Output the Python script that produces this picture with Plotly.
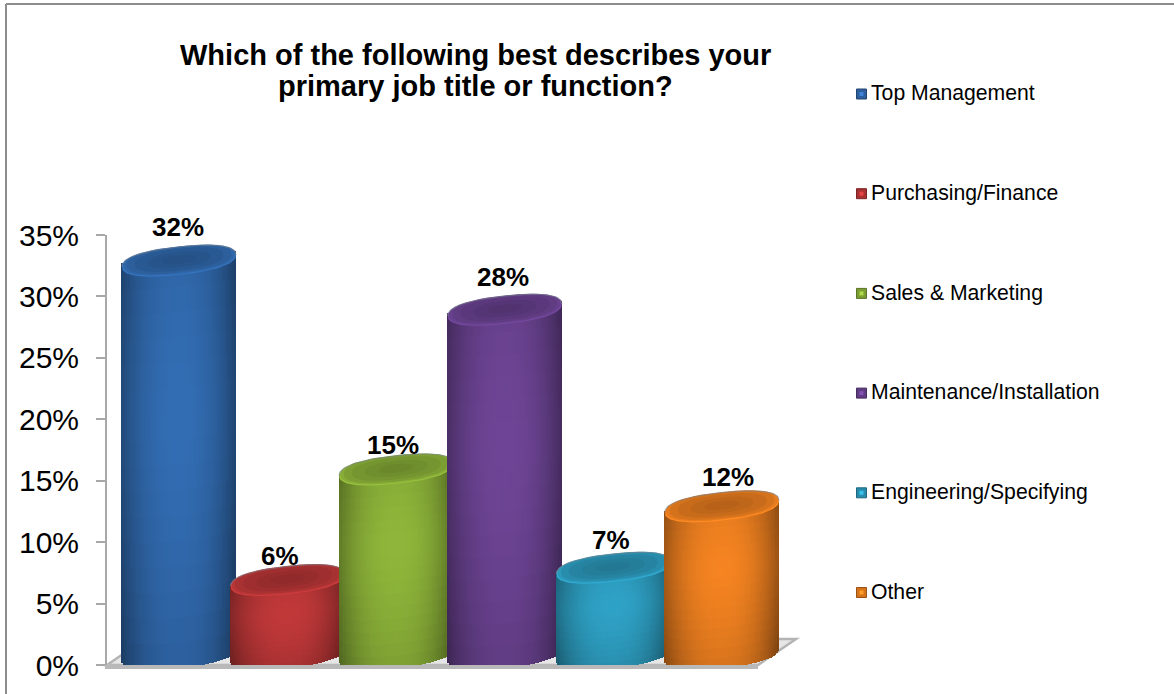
import math
import plotly.graph_objects as go

# Survey results
categories = ["Top Management", "Purchasing/Finance", "Sales & Marketing",
              "Maintenance/Installation", "Engineering/Specifying", "Other"]
values = [32, 6, 15, 28, 7, 12]
tick_values = [0, 5, 10, 15, 20, 25, 30, 35]
tick_labels = ["0%", "5%", "10%", "15%", "20%", "25%", "30%", "35%"]
title_lines = ["Which of the following best describes your", "primary job title or function?"]
base_colors = ["#3470b8", "#c63a3b", "#93bb3c", "#71479a", "#30a6cb", "#fb8722"]
label_dx = [-1, -8, -3, -2, -2, 6]
label_dy = [-21, -11, -12, -20, -15, -17]

W, H = 1174, 694
FONT = "Liberation Sans"
AXIS_GREY = "#a8a8a8"

# Pixel layout of the plotting region
X_LEFT, X_RIGHT = 107, 800
Y_ZERO, Y_TOP = 665, 235
PX_PER_PCT = (Y_ZERO - Y_TOP) / 35
CAT_PX = 108.6
FIRST_CENTER = 179
HALF_W = 57 / CAT_PX
ELL_B = 14 / PX_PER_PCT      # ellipse half-height
ELL_S = 6 / PX_PER_PCT       # rise of the ellipse towards its right end
ELL_P = 2.4                  # slightly squared ellipse, fuller at the tips
DEPTH = 11 / PX_PER_PCT      # cylinders stand behind the front edge of the floor


def rgb(hex_color):
    return [int(hex_color[i:i + 2], 16) for i in (1, 3, 5)]


def shade(hex_color, f):
    r, g, b = rgb(hex_color)
    return f"rgb({min(255, int(r * f))},{min(255, int(g * f))},{min(255, int(b * f))})"


def body_factor(u, v):
    # Highlight down the middle, falling off to the sides and away from upper-mid height
    edge = abs(u - 0.03) ** 2.4
    right = 0.08 * max(u, 0) ** 2
    return 0.98 - 0.30 * edge - right - 0.24 * abs(v - 0.62) ** 1.4


def signed_pow(a, p):
    return math.copysign(abs(a) ** p, a)


def ellipse(cx, cy, scale=1.0, lift=0.0, n=90):
    xs, ys = [], []
    for k in range(n + 1):
        t = 2 * math.pi * k / n
        c, s = signed_pow(math.cos(t), 2 / ELL_P), signed_pow(math.sin(t), 2 / ELL_P)
        xs.append(cx + scale * HALF_W * c)
        ys.append(cy + lift + scale * (ELL_B * s + ELL_S * c))
    return xs, ys


def cylinder_traces(i, value, color, xa, ya):
    cx = i
    traces = []
    strip = 1.5 / CAT_PX
    n_strips = int(round(2 * HALF_W / strip))
    n_rows = 16
    xs, bases, heights, colors = [], [], [], []
    for k in range(n_strips):
        u = (k + 0.5) / n_strips * 2 - 1
        low = DEPTH + ELL_S * u - ELL_B * (1 - abs(u) ** ELL_P) ** (1 / ELL_P)
        high = DEPTH + value + ELL_S * u
        dy = (high - low) / n_rows
        for r in range(n_rows):
            v = (r + 0.5) / n_rows
            xs.append(cx + u * HALF_W)
            bases.append(low + r * dy)
            heights.append(dy * 1.15)
            colors.append(shade(color, body_factor(u, v)))
    traces.append(go.Bar(x=xs, y=heights, base=bases, width=strip * 1.2,
                         xaxis=xa, yaxis=ya,
                         marker=dict(color=colors, line=dict(width=0)),
                         cliponaxis=False, hoverinfo="skip", showlegend=False))

    # Top face: bright front rim, darker dished centre
    cy = DEPTH + value
    ring = [(1.0, 0.0, 1.04), (0.98, 0.8 / PX_PER_PCT, 0.92),
            (0.92, 1.2 / PX_PER_PCT, 0.85), (0.78, 1.3 / PX_PER_PCT, 0.8),
            (0.55, 1.3 / PX_PER_PCT, 0.76), (0.3, 1.3 / PX_PER_PCT, 0.73)]
    for scale, lift, f in ring:
        ex, ey = ellipse(cx, cy, scale, lift)
        traces.append(go.Scatter(x=ex, y=ey, mode="lines", fill="toself",
                                 fillcolor=shade(color, f), line=dict(width=0),
                                 xaxis=xa, yaxis=ya,
                                 cliponaxis=False, hoverinfo="skip", showlegend=False))
    # Soft grey back edge of the top face
    ex, ey = ellipse(cx, cy)
    traces.append(go.Scatter(x=ex[:46], y=ey[:46], mode="lines",
                             line=dict(color="rgba(120,130,140,0.6)", width=1.2),
                             xaxis=xa, yaxis=ya,
                             cliponaxis=False, hoverinfo="skip", showlegend=False))
    return traces


def to_x(px):
    return (px - FIRST_CENTER) / CAT_PX


def svg_path(points):
    # Paper-referenced outline built from pixel corners
    return "M" + " L".join(f"{px / W:.5f},{1 - py / H:.5f}" for px, py in points) + " Z"


fig = go.Figure()

# Each cylinder sits on its own overlaying axes so later ones stack in front
layout_axes = {}
x_range = [to_x(X_LEFT), to_x(X_RIGHT)]
for i, (val, col) in enumerate(zip(values, base_colors)):
    suffix = "" if i == 0 else str(i + 2)
    xa, ya = "x" + suffix, "y" + suffix
    if i > 0:
        layout_axes["xaxis" + suffix] = dict(range=x_range, visible=False, overlaying="x",
                                             anchor=ya, fixedrange=True)
        layout_axes["yaxis" + suffix] = dict(range=[0, 35], visible=False, overlaying="y",
                                             anchor=xa, fixedrange=True)
    for tr in cylinder_traces(i, val, col, xa, ya):
        fig.add_trace(tr)

# Value labels above each cylinder
annotations = []
for i, val in enumerate(values):
    annotations.append(dict(x=i, y=val + DEPTH + 13 / PX_PER_PCT, xref="x", yref="y",
                            text=f"<b>{val}%</b>", showarrow=False,
                            font=dict(family=FONT, size=26, color="black"),
                            xshift=label_dx[i], yshift=-label_dy[i]))

# Two-line heading
for line, py in zip(title_lines, (55, 86)):
    annotations.append(dict(x=475 / W, y=1 - py / H, xref="paper", yref="paper",
                            xanchor="center", yanchor="middle",
                            text=f"<b>{line}</b>", showarrow=False,
                            font=dict(family=FONT, size=29, color="black")))

# Legend column: swatches with a lighter centre, then the names
LEG_X = 861.5 / W
LEG_TEXT_X = 871 / W
LEG_FIRST = 94
LEG_STEP = 99.7
leg_y = [1 - (LEG_FIRST + i * LEG_STEP) / H for i in range(len(categories))]
leg_text_y = [y - 1 / H for y in leg_y]
fig.add_trace(go.Scatter(
    x=[LEG_X] * len(categories), y=leg_y, xaxis="x2", yaxis="y2", mode="markers",
    marker=dict(symbol="square", size=10,
                color=[shade(c, 0.85) for c in base_colors],
                line=dict(color=[shade(c, 0.62) for c in base_colors], width=1)),
    hoverinfo="skip", showlegend=False))
fig.add_trace(go.Scatter(
    x=[LEG_X] * len(categories), y=leg_y, xaxis="x2", yaxis="y2", mode="markers",
    marker=dict(symbol="square", size=4, color=[shade(c, 1.18) for c in base_colors],
                line=dict(width=0)),
    hoverinfo="skip", showlegend=False))
fig.add_trace(go.Scatter(
    x=[LEG_TEXT_X] * len(categories), y=leg_text_y, xaxis="x2", yaxis="y2",
    mode="text", text=categories, textposition="middle right",
    textfont=dict(family=FONT, size=21.2, color="black"),
    hoverinfo="skip", showlegend=False))

# Chart frame (top and left rules) and the floor under the cylinders
shapes = [
    dict(type="line", xref="paper", yref="paper", x0=6 / W, x1=1, y0=1 - 4 / H, y1=1 - 4 / H,
         line=dict(color="#8c8c8c", width=2), layer="above"),
    dict(type="line", xref="paper", yref="paper", x0=6 / W, x1=6 / W, y0=0, y1=1 - 4 / H,
         line=dict(color="#8c8c8c", width=2), layer="above"),
    dict(type="path", xref="paper", yref="paper", layer="below",
         path=svg_path([(107, 665), (145, 639), (796, 639), (758, 665)]),
         fillcolor="#e6e6e6", line=dict(color="#b4b4b4", width=2.5)),
    dict(type="path", xref="paper", yref="paper", layer="below",
         path=svg_path([(105, 664), (758, 664), (758, 669), (105, 669)]),
         fillcolor="#b9b9b9", line=dict(width=0)),
]

fig.update_layout(
    width=W, height=H, margin=dict(l=0, r=0, t=0, b=0, autoexpand=False),
    paper_bgcolor="white", plot_bgcolor="rgba(0,0,0,0)",
    barmode="overlay", bargap=0, showlegend=False,
    xaxis=dict(domain=[X_LEFT / W, X_RIGHT / W], range=x_range,
               visible=False, fixedrange=True),
    yaxis=dict(domain=[1 - Y_ZERO / H, 1 - Y_TOP / H], range=[0, 35],
               tickvals=tick_values, ticktext=tick_labels, showgrid=False, zeroline=False,
               showline=True, linecolor=AXIS_GREY, linewidth=2,
               ticks="outside", ticklen=9, tickcolor=AXIS_GREY, tickwidth=2,
               ticklabelstandoff=11, fixedrange=True,
               tickfont=dict(family=FONT, size=30, color="black")),
    xaxis2=dict(domain=[0, 1], range=[0, 1], visible=False, anchor="y2", fixedrange=True),
    yaxis2=dict(domain=[0, 1], range=[0, 1], visible=False, anchor="x2", fixedrange=True),
    annotations=annotations, shapes=shapes,
    **layout_axes,
)

fig.write_html("out.html")
